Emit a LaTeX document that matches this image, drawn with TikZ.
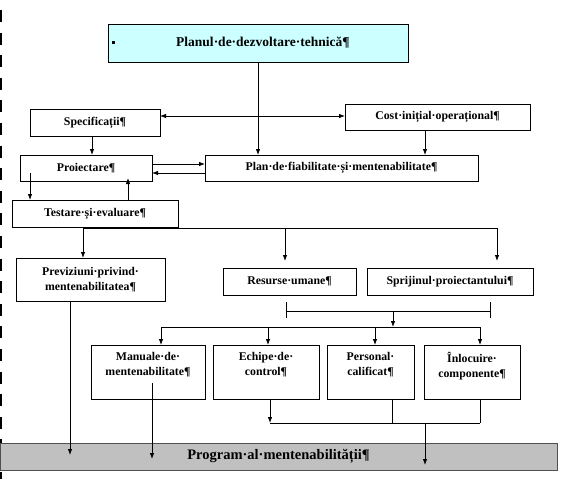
\documentclass[tikz,border=0pt]{standalone}
\usepackage{fontspec}
\setmainfont{Liberation Serif}
\usetikzlibrary{arrows.meta}
\definecolor{cyanlight}{HTML}{CCFFFF}
\definecolor{progray}{HTML}{C0C0C0}
\definecolor{progedge}{HTML}{505050}
\newcommand\mkbox[7][]{\node[boxst,#1,minimum width={#5pt-#3pt},minimum height={#6pt-#4pt}] (#2) at ({(#3+#5)/2},{(#4+#6)/2}) {#7};}
\begin{document}
\begin{tikzpicture}[x=1pt,y=-1pt,
  boxst/.style={draw=black, line width=0.8pt, inner sep=0pt, outer sep=0pt, font=\bfseries\fontsize{11.8}{15.5}\selectfont, align=center},
  txt/.style={inner sep=0pt, font=\bfseries\fontsize{11.8}{15.5}\selectfont, align=center},
  ln/.style={line width=0.8pt},
  arr/.style={ln, -{Latex[length=6pt,width=4.5pt]}},
  darr/.style={ln, {Latex[length=6pt,width=4.5pt]}-{Latex[length=6pt,width=4.5pt]}},
  edgemk/.style={line width=2pt}
]
\useasboundingbox (0,0) rectangle (575,479);
\fill[white] (0,0) rectangle (575,479);

% left margin marks
\foreach \k in {0,...,19} \draw[edgemk] (1,{10+22.6*\k}) -- (1,{22+22.6*\k});
\draw[edgemk] (1,472) -- (1,479);

% boxes
\mkbox[fill=cyanlight,font=\bfseries\fontsize{13.5}{15}\selectfont]{top}{108}{24}{408}{62}{\hspace*{10pt}Planul·de·dezvoltare·tehnică¶}
\fill (112,41) rectangle (115,44);
\mkbox{spec}{30}{109}{160}{136}{Specificații¶}
\mkbox{cost}{345}{104}{530}{130}{Cost·inițial·operațional¶}
\mkbox{proj}{20}{155}{152}{181}{Proiectare¶}
\mkbox{plan}{205}{155}{478}{181}{Plan·de·fiabilitate·și·mentenabilitate¶}
\mkbox{test}{12}{200}{178}{227}{Testare·și·evaluare¶}
\mkbox{prev}{16}{258}{165}{301}{Previziuni·privind·\\mentenabilitatea¶}
\mkbox{res}{223}{268}{356}{295}{Resurse·umane¶}
\mkbox{spr}{367}{268}{533}{295}{Sprijinul·proiectantului¶}
\mkbox{man}{91}{345}{205}{399}{}
\mkbox{ech}{213}{345}{319}{399}{}
\mkbox{per}{327}{345}{414}{399}{}
\mkbox{inl}{424}{345}{520}{399}{}
\node[txt, anchor=north] (mant) at ([yshift=-7pt]man.north) {Manuale·de·\\mentenabilitate¶};
\node[txt, anchor=north] (echt) at ([yshift=-7pt]ech.north) {Echipe·de·\\control¶};
\node[txt, anchor=north] (pert) at ([yshift=-7pt]per.north) {Personal·\\calificat¶};
\node[txt, anchor=north] (inlt) at ([yshift=-7pt]inl.north) {Înlocuire·\\componente¶};
\mkbox[fill=progray,draw=progedge,font=\bfseries\fontsize{14.5}{16}\selectfont]{prog}{0}{443}{557}{470}{Program·al·mentenabilității¶}

% connectors, upper part
\coordinate (ydbl) at (0,116);
\draw[darr] (spec.east |- ydbl) -- (cost.west |- ydbl);
\draw[arr] (top.south) -- (top.south |- plan.north);
\coordinate (x425) at (425,0);
\draw[arr] (cost.south -| x425) -- (plan.north -| x425);
\coordinate (x92) at (92,0);
\draw[arr] (spec.south -| x92) -- (proj.north -| x92);
\coordinate (y164) at (0,164);
\coordinate (y173) at (0,173);
\draw[arr] (proj.east |- y164) -- (plan.west |- y164);
\draw[arr] (plan.west |- y173) -- (proj.east |- y173);
\coordinate (p7) at (30,173);
\draw[arr] (p7) -- (p7 |- test.north);
\coordinate (x128) at (128,0);
\draw[arr] (test.north -| x128) -- ([yshift=3pt]proj.south -| x128);

% tree from Testare
\coordinate (t1) at (83,228);
\coordinate (t2) at (285,228);
\coordinate (t3) at (497,228);
\draw[ln] (t1) -- (t3);
\draw[arr] (t1) -- (t1 |- prev.north);
\draw[arr, shorten >=7pt] (t2) -- (t2 |- res.north);
\draw[arr, shorten >=7pt] (t3) -- (t3 |- spr.north);

% bracket
\coordinate (bl1) at (286,302);
\coordinate (bl2) at (286,318);
\coordinate (br1) at (490,302);
\coordinate (br2) at (490,318);
\coordinate (bm) at (393,311);
\draw[ln] (bl1) -- (bl2);
\draw[ln] (br1) -- (br2);
\draw[ln] (bl1 |- bm) -- (br1 |- bm);
\coordinate (h1) at (161,327);
\coordinate (h2) at (268,327);
\coordinate (h3) at (375,327);
\coordinate (h4) at (480,327);
\draw[arr] (bm) -- (bm |- h1);
\draw[ln] (h1) -- (h4);
\draw[arr] (h1) -- (h1 |- man.north);
\draw[arr] (h2) -- (h2 |- ech.north);
\draw[arr] (h3) -- (h3 |- per.north);
\draw[arr] (h4) -- (h4 |- inl.north);

% lower collection
\coordinate (g1) at (270,423);
\coordinate (g2) at (392,423);
\coordinate (g3) at (480,423);
\coordinate (g4) at (425,423);
\draw[arr] (g1 |- ech.south) -- (g1);
\draw[ln] (g1) -- (g3);
\draw[ln] (g2 |- per.south) -- (g2);
\draw[ln] (g3 |- inl.south) -- (g3);
\draw[arr, shorten >=5pt] (g4) -- (g4 |- prog.south);
\coordinate (m0) at (152,383);
\draw[arr, shorten >=11pt] (m0) -- (m0 |- prog.south);
\coordinate (x70) at (70,0);
\draw[arr, shorten >=15pt] (prev.south -| x70) -- (prog.south -| x70);
\end{tikzpicture}
\end{document}
